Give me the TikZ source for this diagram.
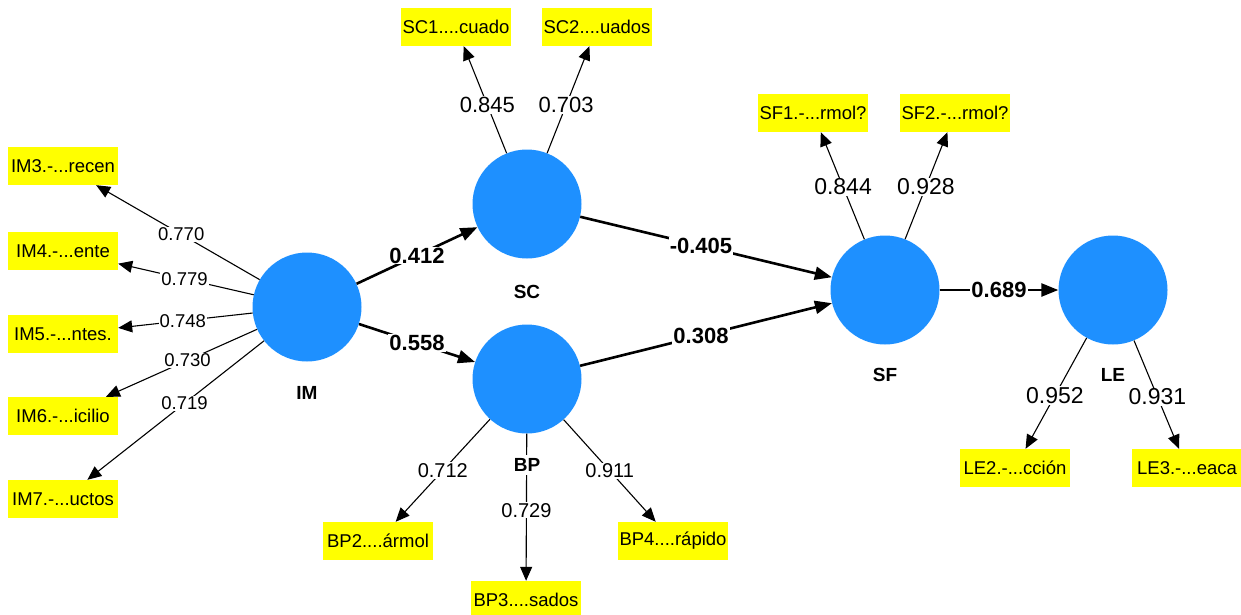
\documentclass[tikz,border=0pt]{standalone}
\usepackage{fontspec}
\setmainfont{Liberation Sans}
\usetikzlibrary{arrows.meta}
\definecolor{lvblue}{RGB}{30,144,255}
\definecolor{indyellow}{RGB}{255,255,0}

\begin{document}
\begin{tikzpicture}[x=1pt, y=-1pt,
        latent/.style={circle, fill=lvblue, minimum size=109pt, inner sep=0pt},
        lvname/.style={font=\bfseries\fontsize{19}{19}\selectfont},
        indicator/.style={fill=indyellow, minimum width=110pt, minimum height=38pt, inner sep=1pt, font=\fontsize{18.5}{18.5}\selectfont},
        loading/.style={-{Triangle[length=14pt,width=12pt]}, line width=1.1pt},
        structural/.style={-{Triangle[length=17pt,width=13pt]}, line width=2.6pt},
        coef/.style={fill=white, inner sep=1pt, font=\fontsize{#1}{#1}\selectfont},
        coef/.default=20,
        pcoef/.style={fill=white, inner sep=1pt, font=\bfseries\fontsize{22}{22}\selectfont}]
    \useasboundingbox (0,0) rectangle (1241,615);

    % latent variables
    \node[latent] (IM) at (307,307) {};
    \node[latent] (SC) at (527,204) {};
    \node[latent] (BP) at (527,379) {};
    \node[latent] (SF) at (885,290) {};
    \node[latent] (LE) at (1113,290) {};

    \node[lvname] (IMname) at (307,393) {IM};
    \node[lvname] (SCname) at (527,292) {SC};
    \node[lvname] (SFname) at (885,375) {SF};
    \node[lvname] (LEname) at (1113,375) {LE};

    % indicators
    \node[indicator] (IM3) at (63,166) {IM3.-...recen};
    \node[indicator] (IM4) at (63,251) {IM4.-...ente};
    \node[indicator] (IM5) at (63,334) {IM5.-...ntes.};
    \node[indicator] (IM6) at (63,416) {IM6.-...icilio};
    \node[indicator] (IM7) at (63,499) {IM7.-...uctos};

    \node[indicator] (SC1) at (456,27) {SC1....cuado};
    \node[indicator] (SC2) at (597,27) {SC2....uados};

    \node[indicator] (BP2) at (378,541) {BP2....ármol};
    \node[indicator] (BP3) at (526,600) {BP3....sados};
    \node[indicator] (BP4) at (673,541) {BP4....rápido};

    \node[indicator] (SF1) at (813,113) {SF1.-...rmol?};
    \node[indicator] (SF2) at (955,113) {SF2.-...rmol?};

    \node[indicator] (LE2) at (1015,468) {LE2.-...cción};
    \node[indicator] (LE3) at (1187,468) {LE3.-...eaca};

    % outer loadings
    \foreach \n/\val/\pp in {3/0.770/0.48, 4/0.779/0.51, 5/0.748/0.52, 6/0.730/0.46, 7/0.719/0.45}
        {
            \draw[loading] (IM) -- node[coef=18.5, pos=\pp]{\val} (IM\n);
        }

    \draw[loading] (SC) -- node[coef=22, pos=0.45]{0.845} (SC1);
    \draw[loading] (SC) -- node[coef=22, pos=0.45]{0.703} (SC2);

    \draw[loading] (BP) -- node[coef, pos=0.5]{0.712} (BP2);
    \draw[loading] (BP) -- node[coef, pos=0.52]{0.729} (BP3);
    \draw[loading] (BP) -- node[coef, pos=0.5]{0.911} (BP4);
    \node[lvname, fill=white, inner sep=3pt] (BPname) at (527,465) {BP};

    \draw[loading] (SF) -- node[coef=23, pos=0.49]{0.844} (SF1);
    \draw[loading] (SF) -- node[coef=23, pos=0.49]{0.928} (SF2);

    \draw[loading] (LE) -- node[coef=23, pos=0.52]{0.952} (LE2);
    \draw[loading] (LE) -- node[coef=23, pos=0.52]{0.931} (LE3);

    % path coefficients
    \draw[structural] (IM) -- node[pcoef]{0.412} (SC);
    \draw[structural] (IM) -- node[pcoef]{0.558} (BP);
    \draw[structural] (SC) -- node[pcoef, pos=0.48]{-0.405} (SF);
    \draw[structural] (BP) -- node[pcoef, pos=0.48]{0.308} (SF);
    \draw[structural] (SF) -- node[pcoef]{0.689} (LE);
\end{tikzpicture}
\end{document}
